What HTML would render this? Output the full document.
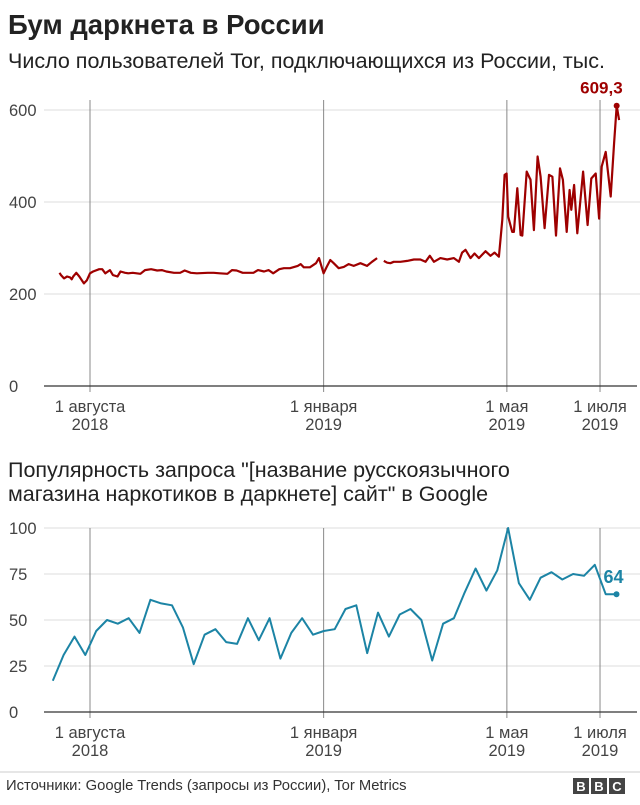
<!DOCTYPE html>
<html><head><meta charset="utf-8"><style>
body{margin:0;background:#fff;font-family:"Liberation Sans",sans-serif;}
svg text{font-family:"Liberation Sans",sans-serif;}
</style></head><body>
<svg id="c" width="640" height="800">
<text x="8" y="34" font-size="27.5" font-weight="bold" fill="#222">Бум даркнета в России</text>
<text x="8" y="68" font-size="21.5" fill="#222">Число пользователей Tor, подключающихся из России, тыс.</text>
<text x="8" y="477" font-size="21.5" fill="#222">Популярность запроса "[название русскоязычного</text>
<text x="8" y="501" font-size="21.5" fill="#222">магазина наркотиков в даркнете] сайт" в Google</text>
<g id="top"></g>
<g id="bot"></g>
<line x1="0" y1="772" x2="640" y2="772" stroke="#ccc"/>
<text x="6" y="790" font-size="14.8" fill="#333">Источники: Google Trends (запросы из России), Tor Metrics</text>
<g>
<rect x="573" y="778" width="16" height="16" fill="#444"/><text x="581" y="791" font-size="13" font-weight="bold" fill="#fff" text-anchor="middle">B</text>
<rect x="591" y="778" width="16" height="16" fill="#444"/><text x="599" y="791" font-size="13" font-weight="bold" fill="#fff" text-anchor="middle">B</text>
<rect x="609" y="778" width="16" height="16" fill="#444"/><text x="617" y="791" font-size="13" font-weight="bold" fill="#fff" text-anchor="middle">C</text>
</g>
</svg>
<script>
const topDays=[11,12,14,16,18,19,20,22,24,27,29,31,33,37,39,41,44,46,49,51,54,56,59,64,67,71,75,78,81,86,90,93,97,101,108,112,116,121,124,127,131,134,138,141,145,148,151,155,158,162,167,169,171,175,179,181,184,186,188.4,190.6,193.9,197.2,200.4,203.7,208.1,212.4,215.7,219,221,223.4,225.6,227.7,229.9,234.3,238.7,243.1,247.4,250.7,253.5,256.2,260.5,264.9,269.3,272.6,274.7,276.9,280.2,282.8,285.7,290,293.3,295.9,298.8,301,302.5,303.8,304.9,307.5,308.6,310.8,313,314.1,317,319.1,319.5,321.7,324.1,326.1,328.7,331.6,333.8,336.2,338.8,340.7,343.2,345.1,346.2,348,350.1,353.9,356.9,359.3,362.2,364.4,366.1,368.7,372,374.2,375.9,377.5];
const topValues=[246,241,234,238,236,232,238,246,238,223,230,245,249,254,254,245,252,241,238,249,246,245,246,244,252,254,251,252,249,246,246,251,246,245,246,246,245,244,252,251,246,246,246,252,249,252,245,254,256,256,261,265,258,258,267,278,245,259,274,267,256,259,265,261,267,261,270,278,null,272,268,267,270,270,272,275,275,270,283,270,278,275,278,270,290,296,278,288,278,293,283,290,281,361,459,462,368,335,335,430,328,327,466,451,449,339,499,455,343,459,455,327,473,448,335,426,383,437,332,466,350,451,462,364,477,509,412,528,609.3,578];
const topTicks=[0,200,400,600];
const botValues=[17,31,41,31,44,50,48,51,43,61,59,58,46,26,42,45,38,37,51,39,51,29,43,51,42,44,45,56,58,32,54,41,53,56,50,28,48,51,65,78,66,77,100,70,61,73,76,72,75,74,80,64,64];
const botTicks=[0,25,50,75,100];
const dateDays=[31,184,304,365];
const dateLabels=[["1 августа","2018"],["1 января","2019"],["1 мая","2019"],["1 июля","2019"]];
const NS="http://www.w3.org/2000/svg";
function mk(p,t,a,txt){const e=document.createElementNS(NS,t);for(const k in a)e.setAttribute(k,a[k]);if(txt!==undefined)e.textContent=txt;p.appendChild(e);return e;}
const xDay=d=>90+(d-31)*1.527;
const yTop=v=>386-v*0.46;
const xWeek=i=>52.8+i*(616.5-52.8)/(botValues.length-1);
const yBot=v=>712-v*1.84;
function frame(g,ticks,yf,y0,yTopLine,labY){
  ticks.forEach(t=>{
    if(t!==0){const l=mk(g,'line',{x1:44,x2:640,y1:yf(t),y2:yf(t),stroke:'#ddd'});
    
    }
    const tx=mk(g,'text',{x:9,y:yf(t)+6,'font-size':16.5,fill:'#444'},String(t));
    
    
  });
  dateDays.forEach((d,i)=>{
    const l=mk(g,'line',{x1:xDay(d),x2:xDay(d),y1:yTopLine,y2:y0+6,stroke:'#888'});
    
    
    const a=mk(g,'text',{x:xDay(d),y:labY,'font-size':16.5,fill:'#444','text-anchor':'middle'},dateLabels[i][0]);
    
    
    const b=mk(g,'text',{x:xDay(d),y:labY+18,'font-size':16.5,fill:'#444','text-anchor':'middle'},dateLabels[i][1]);
    
    
  });
  const ax=mk(g,'line',{x1:44,x2:637,y1:y0,y2:y0,stroke:'#333','stroke-width':1.3});
  
  
}
const gt=document.getElementById('top'),gb=document.getElementById('bot');
frame(gt,topTicks,yTop,386,100,412);
frame(gb,botTicks,yBot,712,528,738);
let d='',pen=false;
topDays.forEach((dd,i)=>{const v=topValues[i];if(v===null){pen=false;return;}d+=(pen?'L':'M')+xDay(dd).toFixed(1)+','+yTop(v).toFixed(1);pen=true;});
const tl=mk(gt,'path',{d:d,fill:'none',stroke:'#9e0000','stroke-width':2.2,'stroke-linejoin':'round'});


const mi=topValues.indexOf(Math.max(...topValues.filter(v=>v!==null)));
const td=mk(gt,'circle',{cx:xDay(topDays[mi]),cy:yTop(topValues[mi]),r:3,fill:'#9e0000'});


const tv=mk(gt,'text',{x:xDay(topDays[mi])+6,y:yTop(topValues[mi])-12,'font-size':17,'font-weight':'bold',fill:'#9e0000','text-anchor':'end'},String(topValues[mi]).replace('.',','));


const bd=botValues.map((v,i)=>(i?'L':'M')+xWeek(i).toFixed(1)+','+yBot(v).toFixed(1)).join('');
const bl=mk(gb,'path',{d:bd,fill:'none',stroke:'#1c84a5','stroke-width':2,'stroke-linejoin':'round'});


const n=botValues.length-1;
const bdot=mk(gb,'circle',{cx:xWeek(n),cy:yBot(botValues[n]),r:3,fill:'#1c84a5'});


const bv=mk(gb,'text',{x:xWeek(n)-13,y:yBot(botValues[n])-11,'font-size':18,'font-weight':'bold',fill:'#1c84a5'},String(botValues[n]));


</script>
</body></html>
